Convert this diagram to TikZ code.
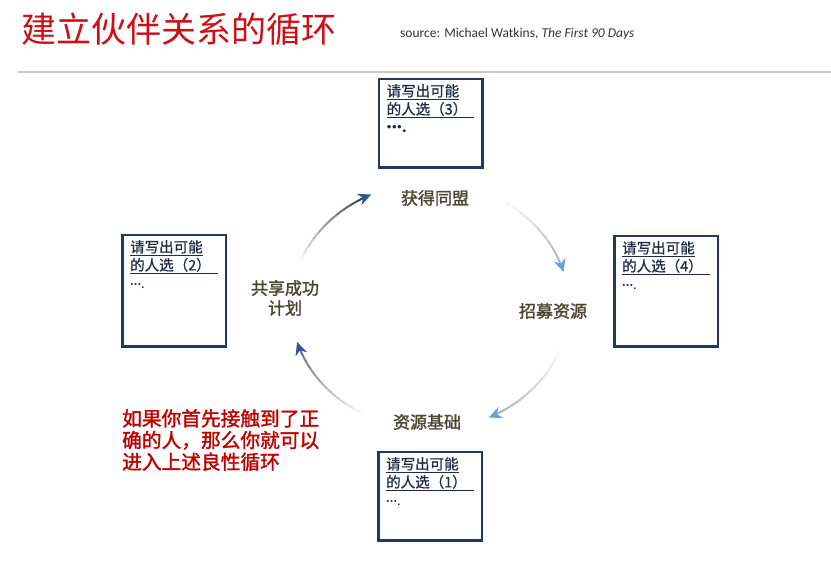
\documentclass[tikz,border=0pt]{standalone}
\usepackage{fontspec}
\setmainfont{Noto Sans CJK SC}
\newfontfamily\cjkbold{Noto Sans CJK SC}[FakeBold=1.6]
\newfontfamily\cjkmed{Noto Sans CJK SC}[FakeBold=0.7]
\newfontfamily\srcfont{Carlito}
\usetikzlibrary{calc,arrows.meta}
\usepackage{xcolor}

\definecolor{boxnavy}{HTML}{1F3864}
\definecolor{boxink}{HTML}{1F2A44}
\definecolor{titlered}{HTML}{CC1018}
\definecolor{notered}{HTML}{C00000}
\definecolor{stageolive}{HTML}{4A4632}
\definecolor{headblue}{HTML}{6FA0D8}
\definecolor{headnavy}{HTML}{2F5597}
\definecolor{arcdark}{HTML}{3C4050}
\definecolor{arcmid}{HTML}{6A707C}
\definecolor{arclight}{HTML}{A8B2C0}
\definecolor{rulegray}{HTML}{C8C8C8}

\newcommand\candlines[2][]{\underline{请写出可能}\\\underline{的人选（#2）\hspace{7pt}}\\{\srcfont#1···.}}

\tikzset{
  namebox/.style={draw=boxnavy, line width=2.5pt, inner sep=0pt, minimum width=103.5pt, minimum height=#1},
  boxtext/.style={anchor=north west, inner sep=0pt, align=left, text=boxink, font=\cjkmed\fontsize{14.5}{18}\selectfont},
  stage/.style={inner sep=0pt, align=center, text=stageolive, font=\cjkbold\fontsize{17}{20}\selectfont},
  cyclearc/.style={line width=2pt}
}

\begin{document}
\begin{tikzpicture}[x=1pt, y=1pt]
  \useasboundingbox (0,0) rectangle (831,570);
  % heading and source line
  \node[anchor=west, inner sep=0pt, text=titlered, font=\fontsize{35}{38}\selectfont] (title) at (21,541) {建立伙伴关系的循环};
  \node[anchor=west, inner sep=0pt, text=black!80, font=\srcfont\fontsize{13.5}{15}\selectfont] (source) at (400,536) {source: Michael Watkins, \textit{The First 90 Days}};
  \coordinate (ruleL) at (18,498);
  \coordinate (ruleR) at (831,498);
  \draw[rulegray, line width=1.3pt] (ruleL) -- (ruleR);

  % cycle arrows, faded from tail to head
  \coordinate (cyc) at (430,264);
  \foreach \from/\to/\tone/\tip in {158/115/arcdark/headnavy, 57/16/arclight/headblue, -21/-65/arclight/headblue, 240/197/arcmid/headnavy}{
    \foreach \k in {0,...,9}{
      \pgfmathsetmacro\ta{\from+(\to-\from)*0.085*\k}
      \pgfmathsetmacro\dt{(\to-\from)*0.085}
      \pgfmathtruncatemacro\mix{10+9*\k}
      \draw[cyclearc, \tone!\mix!white] ($(cyc)+(\ta:139pt and 123pt)$) arc[start angle=\ta, delta angle=\dt, x radius=139pt, y radius=123pt];
    }
    \pgfmathsetmacro\tb{\from+(\to-\from)*0.85}
    \draw[cyclearc, \tone, -{Stealth[length=13pt, width=12pt, color=\tip]}] ($(cyc)+(\tb:139pt and 123pt)$) arc[start angle=\tb, end angle=\to, x radius=139pt, y radius=123pt];
  }

  % stage labels
  \node[stage] (ally) at (435,372) {获得同盟};
  \node[stage] (recruit) at (553,259) {招募资源};
  \node[stage] (base) at (427,148) {资源基础};
  \node[stage] (share) at (285,272) {共享成功\\计划};

  % candidate boxes
  \node[namebox=88.5pt] (cand3) at (430.5,446.5) {};
  \node[boxtext] (list3) at ([xshift=9pt, yshift=-6pt]cand3.north west) {\candlines[\bfseries\fontsize{19}{18}\selectfont]{3}};
  \node[namebox=111.5pt] (cand2) at (174,279) {};
  \node[boxtext] (list2) at ([xshift=9pt, yshift=-6pt]cand2.north west) {\candlines{2}};
  \node[namebox=110.5pt] (cand4) at (666,278.5) {};
  \node[boxtext] (list4) at ([xshift=9pt, yshift=-6pt]cand4.north west) {\candlines{4}};
  \node[namebox=88.5pt] (cand1) at (430,73.5) {};
  \node[boxtext] (list1) at ([xshift=9pt, yshift=-6pt]cand1.north west) {\candlines{1}};

  % note
  \node[anchor=north west, inner sep=0pt, align=left, text=notered, font=\cjkbold\fontsize{19.7}{21.7}\selectfont] (note) at (122,161) {如果你首先接触到了正\\确的人，那么你就可以\\进入上述良性循环};
\end{tikzpicture}
\end{document}
